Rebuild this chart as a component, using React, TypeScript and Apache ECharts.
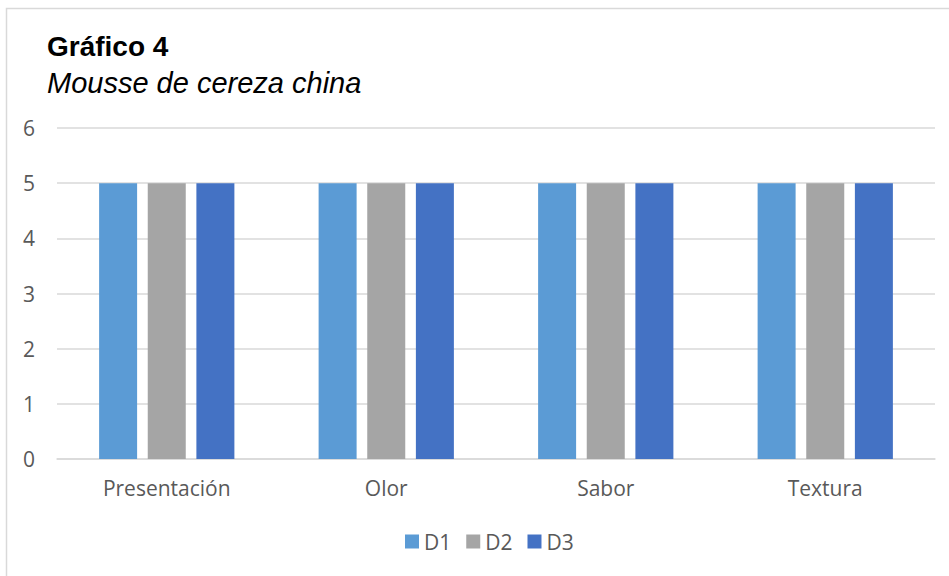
import React, { useEffect, useRef } from "react";
import * as echarts from "echarts";

const categories = ["Presentación", "Olor", "Sabor", "Textura"];
const seriesNames = ["D1", "D2", "D3"];
const d1 = [5, 5, 5, 5];
const d2 = [5, 5, 5, 5];
const d3 = [5, 5, 5, 5];
const colors = ["#5B9BD5", "#A5A5A5", "#4472C4"];

export default function App() {
  const ref = useRef<HTMLDivElement>(null);
  useEffect(() => {
    document.body.style.margin = "0";
    const chart = echarts.init(ref.current!, undefined, { renderer: "svg" });
    const font = "'Open Sans', sans-serif";
    const values = [d1, d2, d3];
    chart.setOption({
      animation: false,
      backgroundColor: "#ffffff",
      graphic: [
        {
          type: "rect",
          shape: { x: 6.5, y: 8.5, width: 960, height: 600 },
          style: { fill: "none", stroke: "#d9d9d9", lineWidth: 1.5 },
          z: 100,
        },
        {
          type: "text",
          x: 47,
          y: 32,
          style: {
            text: "Gráfico 4",
            font: "bold 28px 'Liberation Sans', Arial, sans-serif",
            fill: "#000",
            verticalAlign: "top",
          },
        },
        {
          type: "text",
          x: 47,
          y: 68,
          style: {
            text: "Mousse de cereza china",
            font: "italic 29px 'Liberation Sans', Arial, sans-serif",
            fill: "#000",
            verticalAlign: "top",
          },
        },
      ],
      grid: { left: 57, right: 14, top: 128, bottom: 117, containLabel: false },
      legend: {
        data: seriesNames,
        bottom: 19,
        left: 400,
        itemWidth: 14,
        itemHeight: 14,
        itemGap: 15,
        icon: "rect",
        textStyle: { fontFamily: font, fontSize: 21, color: "#595959" },
      },
      xAxis: {
        type: "category",
        data: categories,
        axisLine: { lineStyle: { color: "#d9d9d9", width: 1.5 } },
        axisTick: { show: false },
        axisLabel: { fontFamily: font, fontSize: 21, color: "#595959", margin: 18 },
      },
      yAxis: {
        type: "value",
        min: 0,
        max: 6,
        interval: 1,
        axisLine: { show: false },
        axisTick: { show: false },
        splitLine: { lineStyle: { color: "#d9d9d9", width: 1.5 } },
        axisLabel: { fontFamily: font, fontSize: 21, color: "#595959", margin: 22 },
      },
      series: seriesNames.map((name, i) => ({
        name,
        type: "bar",
        data: values[i],
        barWidth: 38,
        barGap: "28%",
        itemStyle: { color: colors[i] },
      })),
    });
    return () => chart.dispose();
  }, []);
  return <div ref={ref} style={{ width: 949, height: 576 }} />;
}
